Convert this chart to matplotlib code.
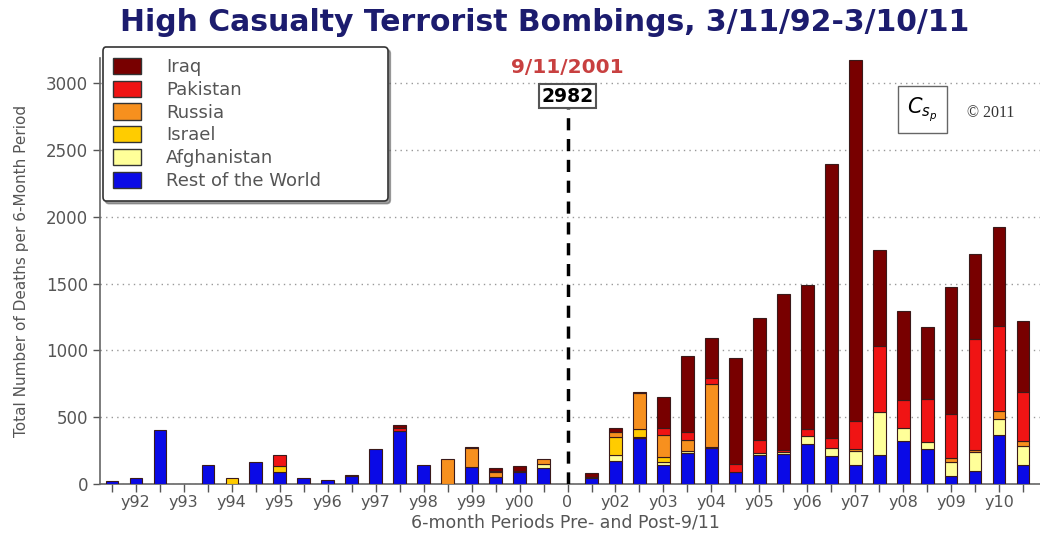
import numpy as np
import matplotlib.pyplot as plt
from matplotlib.patches import Patch

# 6-month periods: 19 before 9/11/2001, an empty slot for 9/11, 19 after
rest = [25, 45, 405, 0, 145, 0, 165, 88, 45, 30, 58, 263, 400, 145, 0, 130, 55, 88, 122,
        0,
        45, 169, 343, 142, 231, 266, 87, 216, 224, 298, 206, 142, 216, 323, 261, 57, 94, 368, 144]
afghanistan = [0, 0, 0, 0, 0, 0, 0, 0, 0, 0, 0, 0, 0, 0, 0, 0, 0, 0, 25,
               0,
               10, 47, 10, 20, 17, 0, 0, 15, 15, 62, 67, 107, 323, 99, 55, 110, 142, 122, 142]
israel = [0, 0, 0, 0, 0, 45, 0, 50, 0, 0, 0, 0, 0, 0, 0, 0, 0, 0, 0,
          0,
          0, 137, 57, 37, 0, 12, 0, 0, 0, 0, 0, 0, 0, 0, 0, 0, 0, 0, 0]
russia = [0, 0, 0, 0, 0, 0, 0, 0, 0, 0, 10, 0, 0, 0, 190, 140, 35, 0, 42,
          0,
          0, 37, 270, 167, 82, 468, 0, 0, 0, 0, 0, 10, 0, 0, 0, 27, 20, 57, 37]
pakistan = [0, 0, 0, 0, 0, 0, 0, 80, 0, 0, 0, 0, 20, 0, 0, 0, 8, 12, 0,
            0,
            0, 0, 0, 52, 60, 45, 62, 100, 15, 55, 75, 216, 492, 204, 318, 328, 833, 634, 368]
iraq = [0, 0, 0, 0, 0, 0, 0, 0, 0, 0, 0, 0, 20, 0, 0, 8, 25, 38, 0,
        0,
        28, 32, 8, 236, 572, 303, 796, 914, 1171, 1077, 2047, 2700, 721, 666, 540, 950, 634, 741, 532]

series = [("Rest of the World", rest, "#0a0ae6"),
          ("Afghanistan", afghanistan, "#ffff99"),
          ("Israel", israel, "#ffcc00"),
          ("Russia", russia, "#f7901e"),
          ("Pakistan", pakistan, "#f01414"),
          ("Iraq", iraq, "#780000")]

tick_labels = ["", "y92", "", "y93", "", "y94", "", "y95", "", "y96", "", "y97", "", "y98",
               "", "y99", "", "y00", "", "0", "", "y02", "", "y03", "", "y04", "", "y05",
               "", "y06", "", "y07", "", "y08", "", "y09", "", "y10", ""]

sept11_deaths = 2982

gray = "#555555"
fig = plt.figure(figsize=(10.4, 5.33), dpi=100)
ax = fig.add_axes([0.096, 0.092, 0.904, 0.799])

x = np.arange(len(rest))
bottom = np.zeros(len(rest))
for name, vals, col in series:
    vals = np.array(vals, dtype=float)
    m = vals > 0
    ax.bar(x[m], vals[m], bottom=bottom[m], width=0.52, color=col,
           edgecolor="#3a1a1a", linewidth=0.8, zorder=3)
    bottom += vals

ax.set_xlim(-0.5, 38.7)
ax.set_ylim(0, 3190)
ax.set_yticks(np.arange(0, 3001, 500))
ax.set_xticks(x)
ax.set_xticklabels(tick_labels)
ax.tick_params(axis="both", colors=gray, labelsize=12, length=5, width=1)
ax.tick_params(axis="x", length=6, pad=2, labelsize=11.5)
for lab in ax.get_xticklabels() + ax.get_yticklabels():
    lab.set_color(gray)
ax.grid(axis="y", linestyle=(0, (1, 3)), color="#999999", linewidth=1, zorder=0)
for s in ["top", "right"]:
    ax.spines[s].set_visible(False)
for s in ["left", "bottom"]:
    ax.spines[s].set_color("#666666")
    ax.spines[s].set_linewidth(1.2)

ax.set_ylabel("Total Number of Deaths per 6-Month Period", color=gray, fontsize=11, labelpad=12)
ax.set_xlabel("6-month Periods Pre- and Post-9/11", color=gray, fontsize=12.5)
ax.xaxis.label.set_va("center")
ax.xaxis.set_label_coords(0.495, -0.091)

fig.text(0.524, 0.958, "High Casualty Terrorist Bombings, 3/11/92-3/10/11",
         ha="center", va="center", fontsize=21.5, fontweight="bold", color="#1c1c6e")

# 9/11 marker
ax.plot([19, 19], [0, 2860], color="black", linestyle=(0, (3.5, 2.5)), linewidth=2.5, zorder=4)
ax.text(19, 2905, str(sept11_deaths), ha="center", va="center", fontsize=13.5, fontweight="bold",
        bbox=dict(boxstyle="square,pad=0.12", facecolor="white", edgecolor="#555555", linewidth=1.5),
        zorder=5)
ax.text(19, 3120, "9/11/2001", ha="center", va="center", fontsize=14.5, fontweight="bold",
        color="#c84040")

# logo
ax.text(33.8, 2805, "$\\mathit{C_{s_p}}$", ha="center", va="center", fontsize=15,
        bbox=dict(boxstyle="square,pad=0.45", facecolor="white", edgecolor="#666666", linewidth=1))
ax.text(35.67, 2775, "© 2011", ha="left", va="center", fontsize=11.5, color="#333333",
        family="Liberation Serif")

handles = [Patch(facecolor=c, edgecolor="#333333", label=n) for n, v, c in series[::-1]]
leg = ax.legend(handles=handles, loc="upper left", bbox_to_anchor=(0.003, 0.0, 0.303, 1.026),
                mode="expand", fontsize=13, frameon=True, fancybox=True, shadow=True,
                handlelength=1.5, handleheight=1.0, handletextpad=1.4,
                labelspacing=0.25, borderpad=0.6, borderaxespad=0)
leg.get_frame().set_edgecolor("#333333")
leg.get_frame().set_linewidth(1.2)
for t in leg.get_texts():
    t.set_color(gray)

fig.savefig("out.png", dpi=100)
